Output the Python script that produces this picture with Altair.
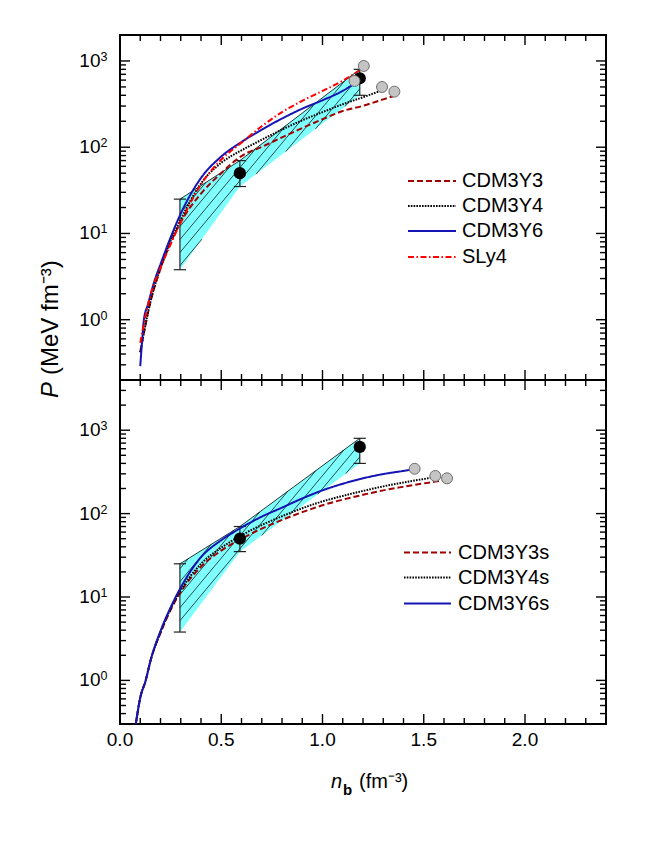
import numpy as np
import pandas as pd
import altair as alt

FONT = "Liberation Sans"
W = 486
H_TOP = 345
H_BOT = 344
X_DOMAIN = [0.0, 2.4]
Y_DOMAIN_TOP = [0.2, 2000]
Y_DOMAIN_BOT = [0.3, 4000]

# ---------------- tick values ----------------
x_major = [0.0, 0.5, 1.0, 1.5, 2.0]
x_minor = [0.1, 0.2, 0.3, 0.4, 0.6, 0.7, 0.8, 0.9, 1.1, 1.2, 1.3, 1.4,
           1.6, 1.7, 1.8, 1.9, 2.1, 2.2, 2.3]
y_major = [1, 10, 100, 1000]
y_minor_top = [0.2, 0.3, 0.4, 0.5, 0.6, 0.7, 0.8, 0.9,
               2, 3, 4, 5, 6, 7, 8, 9,
               20, 30, 40, 50, 60, 70, 80, 90,
               200, 300, 400, 500, 600, 700, 800, 900]
y_minor_bot = [0.3, 0.4, 0.5, 0.6, 0.7, 0.8, 0.9,
               2, 3, 4, 5, 6, 7, 8, 9,
               20, 30, 40, 50, 60, 70, 80, 90,
               200, 300, 400, 500, 600, 700, 800, 900, 2000, 3000]

# ---------------- constraint band / data points ----------------
band_n = [0.296, 0.592, 1.184]
band_hi = [25, 70, 800]
band_lo = [3.8, 35, 400]
err_n = [0.296, 0.592, 1.184]
err_hi = [25, 70, 800]
err_lo = [3.8, 35, 400]
pt_n = [0.592, 1.184]
pt_p = [50, 630]

# ---------------- top panel curves ----------------
top_names = ["CDM3Y3", "CDM3Y4", "CDM3Y6", "SLy4"]
top_colors = ["#a00000", "#000000", "#1414b4", "#ff0000"]
top_dashes = [[6, 3], [1.6, 1.2], [1, 0], [6, 2.5, 1.5, 2.5]]

n_y3 = [0.10, 0.15, 0.20, 0.25, 0.30, 0.40, 0.50, 0.60, 0.70, 0.80, 0.90, 1.00, 1.10, 1.20, 1.30, 1.352]
p_y3 = [0.42, 1.6, 3.9, 7.8, 13.5, 29, 50, 79, 101, 130, 167, 211, 263, 302, 359, 393]
n_y4 = [0.10, 0.15, 0.20, 0.25, 0.30, 0.40, 0.50, 0.60, 0.70, 0.80, 0.90, 1.00, 1.10, 1.20, 1.286]
p_y4 = [0.42, 1.6, 4.0, 8.2, 14.5, 38, 66, 92, 122, 160, 205, 255, 315, 380, 449]
n_y6 = [0.100, 0.110, 0.118, 0.138, 0.170, 0.20, 0.25, 0.30, 0.40, 0.50, 0.60, 0.70, 0.80, 0.90, 1.00, 1.10, 1.158]
p_y6 = [0.29, 0.6, 1.0, 1.5, 2.8, 4.4, 9.0, 17, 44, 78, 115, 160, 215, 280, 350, 450, 546]
n_sly = [0.10, 0.12, 0.15, 0.20, 0.25, 0.30, 0.40, 0.50, 0.60, 0.70, 0.80, 0.90, 1.00, 1.10, 1.18]
p_sly = [0.54, 0.95, 1.9, 4.0, 7.5, 13.5, 37, 72, 113, 175, 255, 345, 450, 590, 770]

top_circle_n = [1.158, 1.204, 1.294, 1.355]
top_circle_p = [586, 875, 499, 441]

# ---------------- bottom panel curves ----------------
bot_names = ["CDM3Y3s", "CDM3Y4s", "CDM3Y6s"]
bot_colors = ["#a00000", "#000000", "#1414b4"]
bot_dashes = [[6, 3], [1.6, 1.2], [1, 0]]

n_y3s = [0.078, 0.10, 0.127, 0.15, 0.20, 0.25, 0.30, 0.40, 0.50, 0.60, 0.70, 0.80, 0.90, 1.00, 1.10, 1.20, 1.30, 1.40, 1.50, 1.60]
p_y3s = [0.3, 0.62, 1.0, 1.7, 3.7, 7.0, 11.5, 23, 36, 50, 66, 84, 104, 126, 147, 168, 190, 210, 230, 252]
n_y4s = [0.078, 0.10, 0.127, 0.15, 0.20, 0.25, 0.30, 0.40, 0.50, 0.60, 0.70, 0.80, 0.90, 1.00, 1.10, 1.20, 1.30, 1.40, 1.50, 1.545]
p_y4s = [0.3, 0.62, 1.0, 1.7, 3.8, 7.2, 12, 25, 39, 55, 73, 93, 116, 140, 163, 187, 212, 236, 260, 272]
n_y6s = [0.078, 0.10, 0.127, 0.15, 0.20, 0.25, 0.30, 0.40, 0.50, 0.60, 0.70, 0.80, 0.90, 1.00, 1.10, 1.20, 1.30, 1.40, 1.45]
p_y6s = [0.3, 0.62, 1.0, 1.7, 3.9, 7.5, 13, 30, 48, 68, 92, 118, 152, 190, 228, 265, 298, 325, 340]

bot_circle_n = [1.455, 1.557, 1.615]
bot_circle_p = [345, 283, 265]


def curves_df(names, ns, ps):
    frames = []
    for name, n, p in zip(names, ns, ps):
        frames.append(pd.DataFrame({"n": n, "P": p, "model": name}))
    return pd.concat(frames, ignore_index=True)


def hatch_df(H, ydom, pix_slope=1.2, pix_spacing=13.0):
    """Diagonal hatch segments clipped to the band polygon (in screen-linear space)."""
    decades = np.log10(ydom[1]) - np.log10(ydom[0])
    px_per_dec = H / decades
    px_per_x = W / (X_DOMAIN[1] - X_DOMAIN[0])
    s = pix_slope * px_per_x / px_per_dec
    step = pix_spacing / px_per_dec
    xg = np.linspace(band_n[0], band_n[-1], 6001)
    up = np.interp(xg, band_n, np.log10(band_hi))
    dn = np.interp(xg, band_n, np.log10(band_lo))
    cmin = (dn - s * xg).min()
    cmax = (up - s * xg).max()
    rows = []
    seg = 0
    for c in np.arange(cmin + step * 0.5, cmax, step):
        ly = s * xg + c
        inside = (ly >= dn) & (ly <= up)
        edges = np.flatnonzero(np.diff(np.concatenate([[0], inside.astype(int), [0]])))
        for a, b in zip(edges[::2], edges[1::2]):
            if b - a < 3:
                continue
            for k in (a, b - 1):
                rows.append({"n": xg[k], "P": 10 ** ly[k], "seg": seg})
            seg += 1
    return pd.DataFrame(rows)


def build_panel(H, ydom, y_minor, cdf, names, colors, dashes, circ_n, circ_p,
                leg_y, leg_x0, leg_x1, leg_tx, bottom):
    xs = alt.Scale(domain=X_DOMAIN, nice=False, zero=False)
    ys = alt.Scale(type="log", domain=ydom, nice=False)

    def X(f):
        return alt.X(f, type="quantitative", scale=xs, axis=None)

    def Y(f):
        return alt.Y(f, type="quantitative", scale=ys, axis=None)

    layers = []
    band = pd.DataFrame({"n": band_n, "hi": band_hi, "lo": band_lo})
    layers.append(alt.Chart(band).mark_area(color="#80ffff", opacity=1, clip=True)
                  .encode(x=X("n"), y=Y("hi"), y2=alt.Y2("lo")))
    layers.append(alt.Chart(hatch_df(H, ydom)).mark_line(color="black", strokeWidth=0.7, clip=True)
                  .encode(x=X("n"), y=Y("P"), detail="seg:N"))
    layers.append(alt.Chart(band).mark_line(color="black", strokeWidth=0.8, clip=True)
                  .encode(x=X("n"), y=Y("hi")))
    err = pd.DataFrame({"n": err_n, "lo": err_lo, "hi": err_hi})
    layers.append(alt.Chart(err).mark_rule(color="#222222", strokeWidth=1.2)
                  .encode(x=X("n"), y=Y("lo"), y2=alt.Y2("hi")))
    for col in ("lo", "hi"):
        layers.append(alt.Chart(err).mark_point(shape="stroke", size=150, color="#222222",
                                                strokeWidth=1.2, opacity=1)
                      .encode(x=X("n"), y=Y(col)))
    layers.append(alt.Chart(cdf).mark_line(strokeWidth=2, clip=True, interpolate="monotone").encode(
        x=X("n"), y=Y("P"),
        color=alt.Color("model:N", scale=alt.Scale(domain=names, range=colors), legend=None),
        strokeDash=alt.StrokeDash("model:N", scale=alt.Scale(domain=names, range=dashes), legend=None),
    ))
    pts = pd.DataFrame({"n": pt_n, "P": pt_p})
    layers.append(alt.Chart(pts).mark_circle(size=150, color="black", opacity=1)
                  .encode(x=X("n"), y=Y("P")))
    circ = pd.DataFrame({"n": circ_n, "P": circ_p})
    layers.append(alt.Chart(circ).mark_circle(size=120, color="#c4c4c4", stroke="#6e6e6e",
                                             strokeWidth=1, opacity=1)
                  .encode(x=X("n"), y=Y("P")))

    # inward ticks (frame on all four sides)
    def rule(df):
        return alt.Chart(df).mark_rule(color="black", strokeWidth=1.4)

    for vals, ln in ((x_major, 10), (x_minor, 6)):
        d = pd.DataFrame({"v": vals})
        layers.append(rule(d).encode(x=X("v"), y=alt.value(H), y2=alt.value(H - ln)))
        layers.append(rule(d).encode(x=X("v"), y=alt.value(0), y2=alt.value(ln)))
    for vals, ln in ((y_major, 10), (y_minor, 6)):
        d = pd.DataFrame({"v": vals})
        layers.append(rule(d).encode(y=Y("v"), x=alt.value(0), x2=alt.value(ln)))
        layers.append(rule(d).encode(y=Y("v"), x=alt.value(W), x2=alt.value(W - ln)))

    # y tick labels 10^k
    lab = pd.DataFrame({"v": y_major, "base": ["10"] * len(y_major),
                        "exp": [str(int(round(np.log10(v)))) for v in y_major]})
    layers.append(alt.Chart(lab).mark_text(align="right", baseline="middle", font=FONT,
                                           fontSize=19, color="black")
                  .encode(x=alt.value(-19.5), y=Y("v"), text="base:N"))
    layers.append(alt.Chart(lab).mark_text(align="left", baseline="alphabetic", font=FONT,
                                           fontSize=12.5, color="black")
                  .encode(x=alt.value(-19.5), y=Y("v"), text="exp:N"))

    # legend
    for name, c, d, yy in zip(names, colors, dashes, leg_y):
        ld = pd.DataFrame({"label": [name]})
        layers.append(alt.Chart(ld).mark_rule(color=c, strokeDash=d, strokeWidth=2)
                      .encode(x=alt.value(leg_x0), x2=alt.value(leg_x1), y=alt.value(yy)))
        layers.append(alt.Chart(ld).mark_text(align="left", baseline="middle", font=FONT,
                                              fontSize=20, color="black")
                      .encode(x=alt.value(leg_tx), y=alt.value(yy), text="label:N"))

    if not bottom:
        t1 = pd.DataFrame({"t": ["P"]})
        t2 = pd.DataFrame({"t": ["(MeV fm\u207b\u00b3)"]})
        layers.append(alt.Chart(t1).mark_text(angle=270, align="left", baseline="alphabetic",
                                              font=FONT, fontSize=24, fontStyle="italic",
                                              color="black")
                      .encode(x=alt.value(-62), y=alt.value(363), text="t:N"))
        layers.append(alt.Chart(t2).mark_text(angle=270, align="left", baseline="alphabetic",
                                              font=FONT, fontSize=24, color="black")
                      .encode(x=alt.value(-62), y=alt.value(340), text="t:N"))
    else:
        xl = pd.DataFrame({"v": x_major})
        layers.append(alt.Chart(xl).mark_text(align="center", baseline="top", font=FONT,
                                              fontSize=19, color="black")
                      .encode(x=X("v"), y=alt.value(H + 7), text=alt.Text("v:Q", format=".1f")))
        t1 = pd.DataFrame({"t": ["n"]})
        t2 = pd.DataFrame({"t": ["b"]})
        t3 = pd.DataFrame({"t": ["(fm\u207b\u00b3)"]})
        layers.append(alt.Chart(t1).mark_text(align="left", baseline="alphabetic", font=FONT,
                                              fontSize=20, fontStyle="italic", color="black")
                      .encode(x=alt.value(211), y=alt.value(408), text="t:N"))
        layers.append(alt.Chart(t2).mark_text(align="left", baseline="alphabetic", font=FONT,
                                              fontSize=15, fontWeight="bold", color="black")
                      .encode(x=alt.value(223), y=alt.value(415), text="t:N"))
        layers.append(alt.Chart(t3).mark_text(align="left", baseline="alphabetic", font=FONT,
                                              fontSize=20, color="black")
                      .encode(x=alt.value(239), y=alt.value(408), text="t:N"))

    return alt.layer(*layers).properties(width=W, height=H)


top_df = curves_df(top_names, [n_y3, n_y4, n_y6, n_sly], [p_y3, p_y4, p_y6, p_sly])
bot_df = curves_df(bot_names, [n_y3s, n_y4s, n_y6s], [p_y3s, p_y4s, p_y6s])

top = build_panel(H_TOP, Y_DOMAIN_TOP, y_minor_top, top_df, top_names, top_colors, top_dashes,
                  top_circle_n, top_circle_p,
                  leg_y=[146, 171, 196, 222], leg_x0=288, leg_x1=336, leg_tx=342, bottom=False)
bottom = build_panel(H_BOT, Y_DOMAIN_BOT, y_minor_bot, bot_df, bot_names, bot_colors, bot_dashes,
                     bot_circle_n, bot_circle_p,
                     leg_y=[172.5, 197.5, 223.5], leg_x0=284, leg_x1=331, leg_tx=338, bottom=True)

chart = (alt.vconcat(top, bottom, spacing=0, bounds="flush")
         .properties(padding={"left": 30, "top": 25, "right": 10, "bottom": 10})
         .configure_view(stroke="black", strokeWidth=2))

chart.save("out.html", embed_options={"renderer": "svg", "actions": False})
